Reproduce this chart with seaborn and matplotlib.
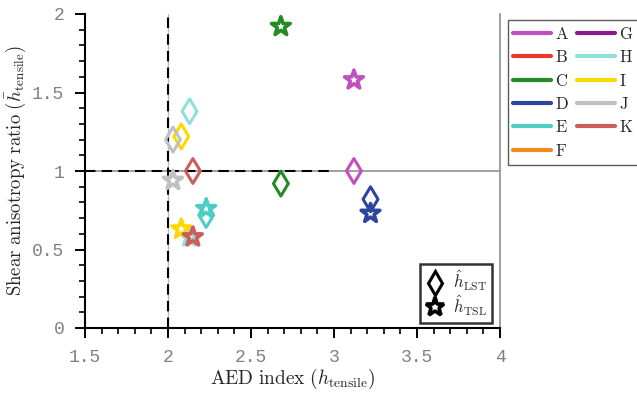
import matplotlib
matplotlib.use("Agg")
import matplotlib.pyplot as plt
import seaborn as sns
import pandas as pd
from matplotlib.lines import Line2D
from matplotlib.ticker import MultipleLocator

sns.set_theme(style="white")
plt.rcParams["mathtext.fontset"] = "cm"

# ---- data ----
samples = ["A", "B", "C", "D", "E", "F", "G", "H", "I", "J", "K"]
colors = ["#c04fc0", "#e8392b", "#228b22", "#2e45a0", "#4ecdc4", "#f28a1e",
          "#8b1a8b", "#8fe0d8", "#ffd700", "#c0c0c0", "#cd5c5c"]
pt_samples = ["A", "C", "D", "E", "H", "I", "J", "K"]
aed_index = [3.12, 2.68, 3.22, 2.23, 2.13, 2.08, 2.03, 2.15]
ratio_lst = [1.00, 0.92, 0.82, 0.72, 1.38, 1.22, 1.20, 1.00]
ratio_tsl = [1.58, 1.92, 0.73, 0.76, 0.58, 0.63, 0.94, 0.58]
xticks = [1.5, 2, 2.5, 3, 3.5, 4]
xticklabels = ["1.5", "2", "2.5", "3", "3.5", "4"]
yticks = [0, 0.5, 1, 1.5, 2]
yticklabels = ["0", "0.5", "1", "1.5", "2"]

palette = dict(zip(samples, colors))
df_lst = pd.DataFrame({"sample": pt_samples, "x": aed_index, "y": ratio_lst})
df_tsl = pd.DataFrame({"sample": pt_samples, "x": aed_index, "y": ratio_tsl})

fig = plt.figure(figsize=(6.37, 3.96), dpi=100)
ax = fig.add_axes([85 / 637, 1 - 328 / 396, 415 / 637, 314 / 396])

# reference lines
ax.axhline(1, color="#999999", lw=1.3, zorder=1)
ax.plot([1.5, 3.0], [1, 1], color="black", lw=1.5, ls=(0, (5, 3)), zorder=2)
ax.axvline(2, color="#bbbbbb", lw=1.0, zorder=1)
ax.axvline(2, color="black", lw=1.5, ls=(0, (5, 3)), zorder=2)


def hollow(coll):
    fc = coll.get_facecolors()
    coll.set_edgecolors(fc)
    coll.set_facecolors("none")


sns.scatterplot(data=df_lst, x="x", y="y", hue="sample", palette=palette,
                marker="d", s=160, linewidth=2.2, legend=False, ax=ax, zorder=3)
hollow(ax.collections[-1])
sns.scatterplot(data=df_tsl, x="x", y="y", hue="sample", palette=palette,
                marker="*", s=200, linewidth=2.6, legend=False, ax=ax, zorder=4)
hollow(ax.collections[-1])

ax.set_xlim(1.5, 4)
ax.set_ylim(0, 2)
ax.set_xticks(xticks)
ax.set_xticklabels(xticklabels)
ax.set_yticks(yticks)
ax.set_yticklabels(yticklabels)
ax.xaxis.set_minor_locator(MultipleLocator(0.1))
ax.yaxis.set_minor_locator(MultipleLocator(0.1))
ax.tick_params(which="major", direction="out", length=7, width=1.4, color="black",
               labelcolor="#808080", labelsize=13, bottom=True, left=True, pad=8)
ax.tick_params(which="minor", direction="out", length=4, width=1.2, color="black",
               bottom=True, left=True)
for lab in ax.get_xticklabels() + ax.get_yticklabels():
    lab.set_family("Liberation Mono")

for s in ["left", "bottom"]:
    ax.spines[s].set_color("black")
    ax.spines[s].set_linewidth(1.5)
ax.spines["top"].set_visible(False)
ax.spines["right"].set_color("#999999")
ax.spines["right"].set_linewidth(1.3)

ax.set_xlabel(r"$\mathrm{AED\ index}\ (h_{\mathrm{tensile}})$", fontsize=14, labelpad=1)
ax.set_ylabel(r"$\mathrm{Shear\ anisotropy\ ratio}\ (\bar{h}_{\mathrm{tensile}})$",
              fontsize=13.5, labelpad=3)

# color legend
handles = [Line2D([0], [0], color=c, lw=3) for c in colors]
leg1 = ax.legend(handles, [r"$\mathrm{%s}$" % s for s in samples], ncol=2,
                 loc="upper left", bbox_to_anchor=(508 / 637, 1 - 20 / 396),
                 bbox_transform=fig.transFigure, frameon=True, fancybox=False,
                 edgecolor="#333333", fontsize=12, handlelength=2.3,
                 handletextpad=0.2, columnspacing=0.5, labelspacing=0.32,
                 borderpad=0.3, borderaxespad=0)
leg1.get_frame().set_linewidth(1.0)
ax.add_artist(leg1)

mh = [Line2D([0], [0], marker="d", color="black", mfc="none", mew=2.2, ms=12, ls="none"),
      Line2D([0], [0], marker="*", color="black", mfc="none", mew=2.6, ms=14, ls="none")]
leg2 = ax.legend(mh, [r"$\hat{h}_{\mathrm{LST}}$", r"$\hat{h}_{\mathrm{TSL}}$"],
                 loc="lower right", bbox_to_anchor=(492 / 637, 1 - 323 / 396),
                 bbox_transform=fig.transFigure, frameon=True,
                 fancybox=False, edgecolor="black", fontsize=12, handlelength=1.2,
                 handletextpad=0.5, labelspacing=0.0, borderpad=0.3, borderaxespad=0)
leg2.get_frame().set_linewidth(1.8)

fig.savefig("out.png", dpi=100)
